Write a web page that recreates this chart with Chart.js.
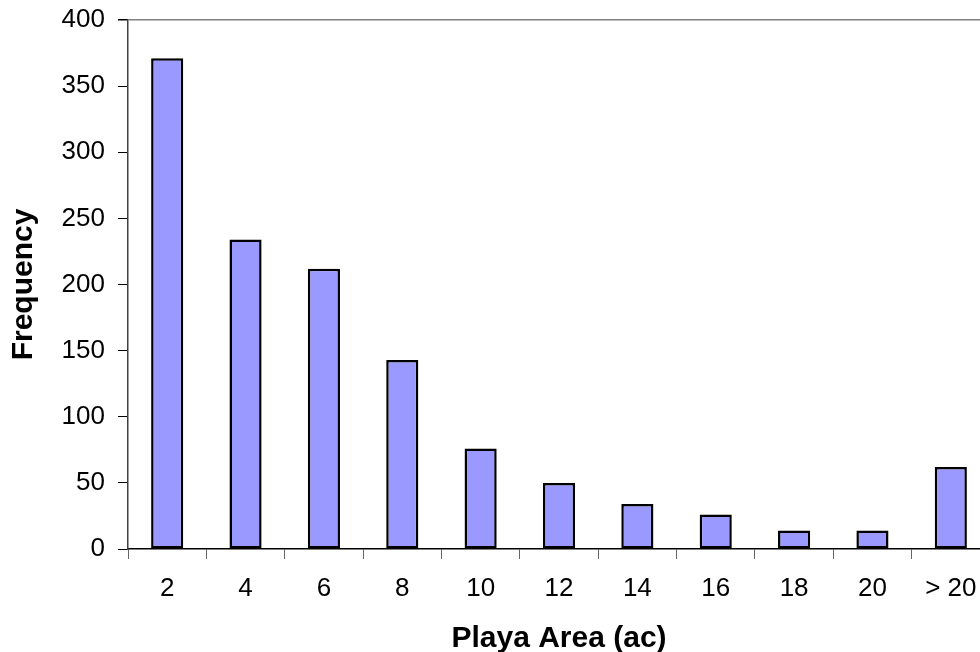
<!doctype html>
<html>

<head>
	<title>Playa Area Frequency</title>
	<script src="https://cdn.jsdelivr.net/npm/chart.js@4/dist/chart.umd.min.js"></script>
	<style>
		html, body {
			margin: 0;
			padding: 0;
			overflow: hidden;
			background: #fff;
		}
		#holder {
			width: 1000px;
			height: 652px;
		}
	</style>
</head>

<body>
	<div id="holder">
		<canvas id="chart" width="1000" height="652"></canvas>
	</div>
	<script>
		// values
		var categories = ['2', '4', '6', '8', '10', '12', '14', '16', '18', '20', '> 20'];
		var frequency = [371, 234, 212, 143, 76, 50, 34, 26, 14, 14, 62];
		var yTicks = [0, 50, 100, 150, 200, 250, 300, 350, 400];

		var font = 'Liberation Sans, Arial, sans-serif';

		window.onload = function() {
			var chartEl = document.getElementById('chart');
			window.myBar = new Chart(chartEl, {
				type: 'bar',
				data: {
					labels: categories,
					datasets: [{
						label: 'Frequency',
						data: frequency,
						backgroundColor: '#9999ff',
						borderColor: '#000000',
						borderWidth: 2.5,
						borderSkipped: false,
						barPercentage: 0.41,
						categoryPercentage: 1
					}]
				},
				options: {
					responsive: false,
					animation: false,
					layout: {
						padding: {top: 20, left: 0, right: 10, bottom: 0}
					},
					plugins: {
						legend: {display: false},
						tooltip: {enabled: false}
					},
					scales: {
						x: {
							afterFit: function(scale) {
								scale.height = 103;
								scale.paddingLeft = 0;
								scale.paddingRight = 0;
							},
							grid: {
								offset: true,
								drawOnChartArea: false,
								tickLength: 10,
								color: '#666666',
								lineWidth: 1
							},
							border: {color: '#000000', width: 1.5},
							ticks: {
								color: '#000000',
								padding: 14,
								font: {family: font, size: 26}
							},
							title: {
								display: true,
								text: 'Playa Area (ac)',
								color: '#000000',
								padding: {top: 0, bottom: -5},
								font: {family: font, size: 30, weight: 'bold'}
							}
						},
						y: {
							min: 0,
							max: 400,
							afterFit: function(scale) {
								scale.width = 128;
								scale.paddingTop = 0;
								scale.paddingBottom = 0;
							},
							afterBuildTicks: function(scale) {
								scale.ticks = yTicks.map(function(v) { return {value: v}; });
							},
							grid: {
								drawOnChartArea: true,
								tickLength: 10,
								color: function(ctx) {
									return ctx.tick && ctx.tick.value === 400 ? '#808080' : 'rgba(0,0,0,0)';
								},
								tickColor: '#000000',
								lineWidth: function(ctx) {
									return ctx.tick && ctx.tick.value === 400 ? 1.5 : 1;
								}
							},
							border: {color: '#404040', width: 1.5},
							ticks: {
								color: '#000000',
								padding: 13,
								font: {family: font, size: 26}
							},
							title: {
								display: true,
								text: 'Frequency',
								color: '#000000',
								padding: {top: 6, bottom: 0},
								font: {family: font, size: 30, weight: 'bold'}
							}
						}
					}
				}
			});
		};
	</script>
</body>

</html>
